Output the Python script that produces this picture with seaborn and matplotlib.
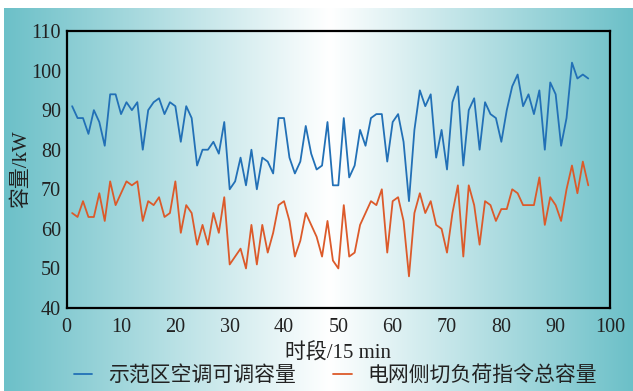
import numpy as np
import pandas as pd
import matplotlib
matplotlib.use("Agg")
import matplotlib.pyplot as plt
import seaborn as sns
from matplotlib.lines import Line2D

periods = list(range(1, 97))
ac_capacity = [91, 88, 88, 84, 90, 87, 81, 94, 94, 89, 92, 90, 92, 80, 90, 92, 93, 89, 92, 91,
               82, 91, 88, 76, 80, 80, 82, 79, 87, 70, 72, 78, 71, 80, 70, 78, 77, 74, 88, 88,
               78, 74, 77, 86, 79, 75, 76, 87, 71, 71, 88, 73, 76, 85, 81, 88, 89, 89, 77, 87,
               89, 82, 67, 85, 95, 91, 94, 78, 85, 75, 92, 96, 76, 90, 93, 80, 92, 89, 88, 82,
               90, 96, 99, 91, 94, 89, 95, 80, 97, 94, 81, 88, 102, 98, 99, 98]
grid_command = [64, 63, 67, 63, 63, 69, 62, 72, 66, 69, 72, 71, 72, 62, 67, 66, 68, 63, 64, 72,
                59, 66, 64, 56, 61, 56, 64, 59, 68, 51, 53, 55, 50, 61, 51, 61, 54, 59, 66, 67,
                62, 53, 57, 64, 61, 58, 53, 62, 52, 50, 66, 53, 54, 61, 64, 67, 66, 70, 54, 67,
                68, 62, 48, 64, 69, 64, 67, 61, 60, 54, 64, 71, 53, 71, 66, 56, 67, 66, 62, 65,
                65, 70, 69, 66, 66, 66, 73, 61, 68, 66, 62, 70, 76, 69, 77, 71]
series_names = ["示范区空调可调容量", "电网侧切负荷指令总容量"]
colors = ["#2270b6", "#dc5a2a"]
xlabel = "时段/15 min"
ylabel = "容量/kW"
xticks = [0, 10, 20, 30, 40, 50, 60, 70, 80, 90, 100]
yticks = [40, 50, 60, 70, 80, 90, 100, 110]

df = pd.DataFrame({
    "period": periods * 2,
    "value": ac_capacity + grid_command,
    "series": [series_names[0]] * len(periods) + [series_names[1]] * len(periods),
})

sns.set_style("white")
plt.rcParams["font.family"] = ["Liberation Serif", "Noto Sans CJK SC", "DejaVu Sans"]

W, H = 633, 391
fig = plt.figure(figsize=(W / 100, H / 100), dpi=100)
fig.patch.set_facecolor("white")

# gradient background
bg = fig.add_axes([4 / W, 0, (W - 4) / W, (H - 8) / H], zorder=0)
xs = np.linspace(4, W, 600)
teal = np.array([108, 192, 200]) / 255.0
white = np.array([1.0, 1.0, 1.0])
cx = 330.0
t = np.where(xs < cx, (cx - xs) / (cx - 4), (xs - cx) / (W - cx))
t = np.clip(t, 0, 1)
img = white[None, :] * (1 - t[:, None]) + teal[None, :] * t[:, None]
bg.imshow(img[None, :, :], aspect="auto", extent=[0, 1, 0, 1])
bg.set_axis_off()

ax = fig.add_axes([66.7 / W, 1 - 308 / H, (610 - 66.7) / W, (308 - 31) / H], zorder=1)
ax.patch.set_alpha(0)
sns.lineplot(data=df, x="period", y="value", hue="series", palette=colors,
             linewidth=1.3, ax=ax, legend=False)

ax.set_xlim(0, 100)
ax.set_ylim(40, 110)
ax.set_xticks(xticks)
ax.set_yticks(yticks)
ax.tick_params(direction="in", length=4, width=1.5, labelsize=14.5, colors="#222222",
               top=False, right=False)
ax.tick_params(axis="x", pad=7)
ax.tick_params(axis="y", pad=4)
for s in ax.spines.values():
    s.set_linewidth(1.6)
    s.set_color("black")
ax.set_xlabel(xlabel, fontsize=15, labelpad=5, color="#222222")
ax.set_ylabel(ylabel, fontsize=15, labelpad=0, color="#222222")

handles = [Line2D([0], [0], color=c, linewidth=1.3) for c in colors]
fig.legend(handles, series_names, loc="center", bbox_to_anchor=(335.5 / W, 1 - 376 / H),
           ncol=2, frameon=False, fontsize=15, handlelength=0.9, handletextpad=0.75,
           columnspacing=1.8, labelcolor="#222222")

fig.savefig("out.png", dpi=100)
